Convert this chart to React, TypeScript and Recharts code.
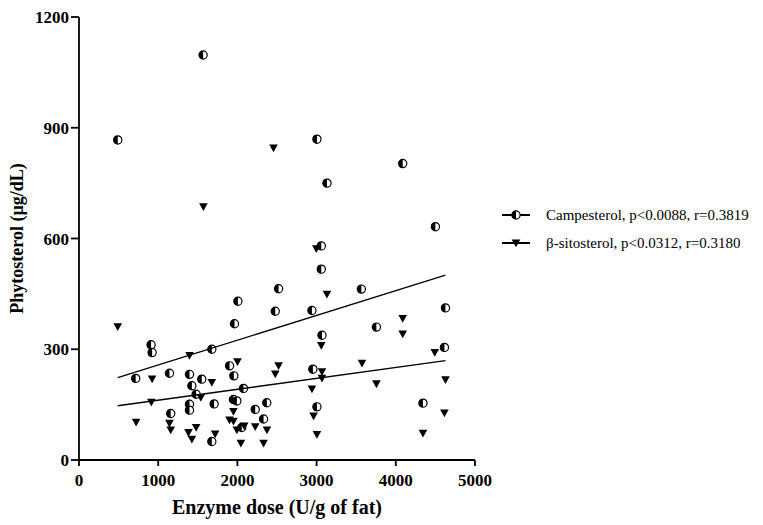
import React from 'react';
import { ScatterChart, Scatter, XAxis, YAxis } from 'recharts';

const campX = [489, 1567, 3004, 4087, 3131, 4500, 3059, 3059, 2520, 3565, 2478, 2941, 4627, 3755, 3068, 4614, 2953, 4343, 3004, 910, 923, 2006, 1963, 1677, 1901, 716, 1142, 1395, 1955, 1550, 1425, 2077, 1479, 1950, 1993, 1706, 1395, 1395, 2371, 2225, 1158, 2330, 2055, 1677];
const campY = [867, 1097, 869, 803, 750, 632, 580, 517, 464, 463, 403, 405, 412, 360, 338, 305, 246, 154, 144, 312, 291, 430, 369, 300, 255, 221, 235, 232, 228, 219, 201, 194, 178, 164, 160, 152, 151, 135, 155, 137, 126, 111, 88, 50];

const sitoX = [489, 1571, 2456, 2996, 3131, 4087, 4087, 3059, 4492, 3573, 2520, 2478, 3068, 3068, 4627, 3755, 2941, 2962, 4614, 3004, 4343, 1395, 2001, 1677, 1538, 914, 923, 721, 1142, 1950, 1900, 1950, 1158, 1479, 1382, 1425, 1719, 1993, 2086, 2225, 2373, 2044, 2330];
const sitoY = [361, 686, 845, 572, 449, 383, 341, 310, 291, 262, 255, 233, 239, 221, 217, 206, 192, 119, 127, 69, 72, 283, 266, 210, 169, 156, 219, 102, 99, 131, 108, 105, 81, 88, 74, 56, 70, 81, 92, 90, 81, 45, 45];

const fitX = [489, 4627];
const campFitY = [223, 501];
const sitoFitY = [147, 269];

const xTicks = [0, 1000, 2000, 3000, 4000, 5000];
const yTicks = [0, 300, 600, 900, 1200];
const seriesNames = ['Campesterol, p<0.0088, r=0.3819', 'β-sitosterol, p<0.0312, r=0.3180'];
const xTitle = 'Enzyme dose (U/g of fat)';
const yTitle = 'Phytosterol (µg/dL)';

const toPts = (xs: number[], ys: number[]) => xs.map((x, i) => ({ x, y: ys[i] }));
const campData = toPts(campX, campY);
const sitoData = toPts(sitoX, sitoY);
const campFit = toPts(fitX, campFitY);
const sitoFit = toPts(fitX, sitoFitY);

const SERIF = "'Liberation Serif', 'Times New Roman', serif";

const HalfCircle = ({ cx, cy }: any) => {
  const r = 4.1;
  if (cx == null || cy == null) return <g />;
  return (
    <g>
      <circle cx={cx} cy={cy} r={r} fill="#fff" stroke="#000" strokeWidth={1.2} />
      <path d={`M ${cx} ${cy - r} A ${r} ${r} 0 0 0 ${cx} ${cy + r} Z`} fill="#000" />
    </g>
  );
};

const DownTri = ({ cx, cy }: any) => {
  if (cx == null || cy == null) return <g />;
  return <polygon points={`${cx - 4.3},${cy - 3.6} ${cx + 4.3},${cy - 3.6} ${cx},${cy + 4.2}`} fill="#000" />;
};

const Empty = () => <g />;

const XTick = ({ x, y, payload }: any) => (
  <text x={x} y={y} dy="0.71em" textAnchor="middle" style={{ fontFamily: SERIF, fontWeight: 700, fontSize: 17, fill: '#000' }}>
    {payload.value}
  </text>
);

const YTick = ({ x, y, payload }: any) => (
  <text x={x} y={y} dy="0.355em" textAnchor="end" style={{ fontFamily: SERIF, fontWeight: 700, fontSize: 17, fill: '#000' }}>
    {payload.value}
  </text>
);

export default function App() {
  return (
    <div style={{ position: 'absolute', left: 0, top: 0, width: 763, height: 525, background: '#fff' }}>
      <ScatterChart width={763} height={525} margin={{ top: 17, right: 288, bottom: 6, left: 12 }}>
        <XAxis
          type="number"
          dataKey="x"
          domain={[0, 5000]}
          ticks={xTicks}
          interval={0}
          height={59}
          tickSize={6}
          tickMargin={8}
          tick={<XTick />}
          axisLine={{ stroke: '#000', strokeWidth: 1.8 }}
          tickLine={{ stroke: '#000', strokeWidth: 1.8 }}
          allowDataOverflow
          label={{ value: xTitle, position: 'insideBottom', offset: 5, style: { fontFamily: SERIF, fontWeight: 700, fontSize: 20, fill: '#000' } }}
        />
        <YAxis
          type="number"
          dataKey="y"
          domain={[0, 1200]}
          ticks={yTicks}
          interval={0}
          width={67}
          tickSize={8}
          tickMargin={2}
          tick={<YTick />}
          axisLine={{ stroke: '#000', strokeWidth: 1.8 }}
          tickLine={{ stroke: '#000', strokeWidth: 1.8 }}
          allowDataOverflow
          label={{ value: yTitle, angle: -90, position: 'insideLeft', offset: 5, style: { fontFamily: SERIF, fontWeight: 700, fontSize: 18, fill: '#000', textAnchor: 'middle' } }}
        />
        <Scatter name={seriesNames[0]} data={campData} shape={HalfCircle} isAnimationActive={false} />
        <Scatter name={seriesNames[1]} data={sitoData} shape={DownTri} isAnimationActive={false} />
        <Scatter data={campFit} shape={Empty} line={{ stroke: '#000', strokeWidth: 1.3 }} isAnimationActive={false} />
        <Scatter data={sitoFit} shape={Empty} line={{ stroke: '#000', strokeWidth: 1.3 }} isAnimationActive={false} />
      </ScatterChart>
      <svg width={268} height={70} style={{ position: 'absolute', left: 495, top: 195 }}>
        <g transform="translate(-495,-195)">
          <line x1={502} x2={530} y1={215} y2={215} stroke="#000" strokeWidth={2} />
          <HalfCircle cx={516} cy={215} />
          <text x={546} y={220} fontFamily={SERIF} fontSize={15} fill="#000">{seriesNames[0]}</text>
          <line x1={502} x2={530} y1={243} y2={243} stroke="#000" strokeWidth={2} />
          <DownTri cx={516} cy={243} />
          <text x={546} y={248} fontFamily={SERIF} fontSize={15} fill="#000">{seriesNames[1]}</text>
        </g>
      </svg>
    </div>
  );
}
